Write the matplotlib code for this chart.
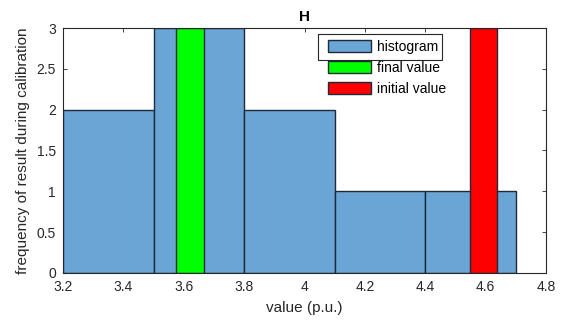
import matplotlib.pyplot as plt
from matplotlib.patches import Rectangle

plt.rcParams['font.family'] = ['Liberation Sans', 'DejaVu Sans']

# histogram bins and counts
bin_edges = [3.2, 3.5, 3.8, 4.1, 4.4, 4.7]
counts = [2, 3, 2, 1, 1]

# final / initial values, drawn as narrow bars
final_value = 3.62
initial_value = 4.593
marker_height = 3
marker_width = 0.092

fig = plt.figure(figsize=(5.61, 3.2), dpi=100)
ax = fig.add_axes([0.1123, 0.1469, 0.861, 0.7656])

widths = [b - a for a, b in zip(bin_edges[:-1], bin_edges[1:])]
ax.bar(bin_edges[:-1], counts, width=widths, align='edge',
       color='#6aa5d6', edgecolor='#1c2a3a', linewidth=1.0, label='histogram', zorder=2)
ax.bar([final_value], [marker_height], width=marker_width,
       color='#00ff00', edgecolor='#1c2a3a', linewidth=1.0, label='final value', zorder=3)
ax.bar([initial_value], [marker_height], width=marker_width,
       color='#ff0000', edgecolor='#1c2a3a', linewidth=1.0, label='initial value', zorder=3)

ax.set_xlim(3.2, 4.8)
ax.set_ylim(0, 3)
ax.set_xticks([3.2, 3.4, 3.6, 3.8, 4.0, 4.2, 4.4, 4.6, 4.8])
ax.set_xticklabels(['3.2', '3.4', '3.6', '3.8', '4', '4.2', '4.4', '4.6', '4.8'])
ax.set_yticks([0, 0.5, 1, 1.5, 2, 2.5, 3])
ax.set_yticklabels(['0', '0.5', '1', '1.5', '2', '2.5', '3'])
ax.tick_params(direction='in', top=True, right=True, labelsize=10,
               colors='#262626', length=3, width=0.6, pad=5)
for s in ax.spines.values():
    s.set_color('#262626')
    s.set_linewidth(0.8)
    s.set_zorder(5)

ax.set_xlabel('value (p.u.)', fontsize=11, color='#262626', labelpad=5)
ax.set_ylabel('frequency of result during calibration', fontsize=11, color='#262626', labelpad=5)
ax.set_title('H', fontsize=11, fontweight='bold', pad=5)

leg = ax.legend(loc='upper left', bbox_to_anchor=(328 / 561, 1 - 40 / 320),
                bbox_transform=fig.transFigure, frameon=False,
                fontsize=10, handlelength=3.1, handleheight=0.95, handletextpad=0.45,
                labelspacing=0.5, borderaxespad=0, borderpad=0)

# legend box only around first entry, as in the reference
fig.patches.append(Rectangle((318 / 561, 1 - 60 / 320), (442 - 318) / 561, 26 / 320,
                             transform=fig.transFigure, fill=False,
                             edgecolor='#262626', linewidth=0.8, zorder=6))

fig.savefig('out.png', dpi=100)
